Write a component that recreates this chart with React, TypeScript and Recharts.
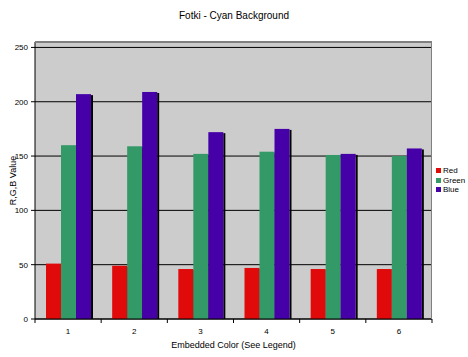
import { BarChart, Bar, XAxis, YAxis, CartesianGrid, Label } from "recharts";

const categories = ["1", "2", "3", "4", "5", "6"];
const redValues = [51, 49, 46, 47, 46, 46];
const greenValues = [160, 159, 152, 154, 151, 150];
const blueValues = [207, 209, 172, 175, 152, 157];
const yTicks = [0, 50, 100, 150, 200, 250];

const series = [
  { key: "red", name: "Red", color: "#E00A0A", values: redValues },
  { key: "green", name: "Green", color: "#339966", values: greenValues },
  { key: "blue", name: "Blue", color: "#4600A8", values: blueValues },
];

const data = categories.map((c, i) => ({
  cat: c,
  red: redValues[i],
  green: greenValues[i],
  blue: blueValues[i],
}));

const W = 468;
const H = 357;
const LEFT = 35;
const TOP = 42;
const PLOT_W = 397;
const PLOT_H = 277;
const FONT = "'Liberation Sans', Arial, sans-serif";

const ShadowBar = (props: any) => {
  const { x, y, width, height, fill } = props;
  if (!height || height <= 0) return null;
  return (
    <g>
      <rect x={x + width} y={y + 1} width={2} height={height - 1} fill="#000" />
      <rect x={x} y={y} width={width} height={height} fill={fill} />
    </g>
  );
};

const XTick = (props: any) => {
  const { x, y, payload, index } = props;
  const band = PLOT_W / categories.length;
  return (
    <g>
      <line x1={x - band / 2} x2={x - band / 2} y1={y} y2={y + 4} stroke="#000" />
      {index === categories.length - 1 && (
        <line x1={x + band / 2} x2={x + band / 2} y1={y} y2={y + 4} stroke="#000" />
      )}
      <text x={x} y={y + 15} textAnchor="middle" fontSize={8} fontFamily={FONT} fill="#000">
        {payload.value}
      </text>
    </g>
  );
};

export default function App() {
  return (
    <div style={{ position: "absolute", left: 0, top: 0, width: W, height: H, background: "#fff" }}>
      <div
        style={{
          position: "absolute",
          top: 10,
          width: W,
          textAlign: "center",
          fontFamily: FONT,
          fontSize: 10,
        }}
      >
        Fotki - Cyan Background
      </div>
      <BarChart
        width={W}
        height={H}
        data={data}
        margin={{ top: TOP, right: W - LEFT - PLOT_W, bottom: 0, left: 0 }}
        barGap={0}
        barCategoryGap={11}
      >
        <CartesianGrid
          vertical={false}
          stroke="#000"
          fill="#CCCCCC"
          fillOpacity={1}
        />
        <XAxis
          dataKey="cat"
          height={H - TOP - PLOT_H}
          tickLine={false}
          tickSize={0}
          tickMargin={0}
          stroke="#000"
          tick={<XTick />}
          interval={0}
        >
          <Label
            value="Embedded Color (See Legend)"
            position="insideBottom"
            offset={9}
            style={{ fontSize: 9, fontFamily: FONT, fill: "#000" }}
          />
        </XAxis>
        <YAxis
          width={LEFT}
          domain={[0, 255]}
          ticks={yTicks}
          tickSize={4}
          tickMargin={3}
          stroke="#000"
          tick={{ fontSize: 8, fontFamily: FONT, fill: "#000" }}
          interval={0}
        >
          <Label
            value="R,G,B Value"
            angle={-90}
            position="insideLeft"
            offset={13}
            style={{ fontSize: 9, fontFamily: FONT, fill: "#000", textAnchor: "middle" }}
          />
        </YAxis>
        {series.map((s) => (
          <Bar
            key={s.key}
            dataKey={s.key}
            name={s.name}
            fill={s.color}
            shape={<ShadowBar />}
            isAnimationActive={false}
          />
        ))}
      </BarChart>
      <div
        style={{
          position: "absolute",
          left: LEFT,
          top: TOP,
          width: PLOT_W,
          height: PLOT_H,
          borderTop: "1px solid #808080",
          borderRight: "1px solid #808080",
          boxSizing: "border-box",
          pointerEvents: "none",
        }}
      />
      <div style={{ position: "absolute", left: 436, top: 166, fontFamily: FONT, fontSize: 8 }}>
        {series.map((s) => (
          <div key={s.key} style={{ display: "flex", alignItems: "center", height: 9.5 }}>
            <span style={{ width: 5, height: 5, background: s.color, marginRight: 2 }} />
            <span>{s.name}</span>
          </div>
        ))}
      </div>
    </div>
  );
}
